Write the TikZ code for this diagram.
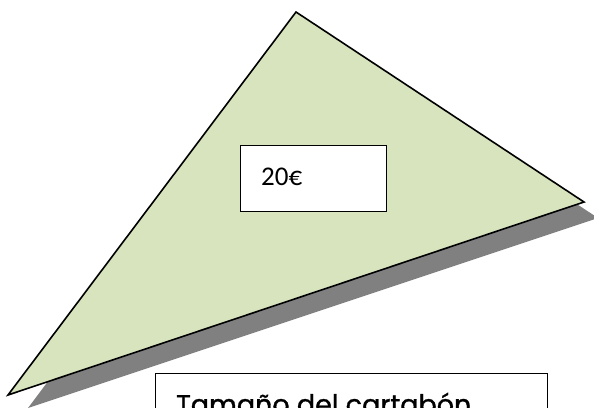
\documentclass[tikz,border=0pt]{standalone}
\usepackage{fontspec}
\setmainfont{Carlito}
\newfontfamily\geofont[FakeBold=1.2]{Poppins}
\definecolor{trigreen}{RGB}{215,228,189}
\definecolor{shadowgray}{RGB}{128,128,128}
\begin{document}
\begin{tikzpicture}[x=1pt,y=-1pt,
  tri/.style={draw=black,line width=1.6pt,fill=trigreen,line join=miter},
  shade/.style={fill=shadowgray},
  label box/.style={draw=black,line width=1.2pt,fill=white}]
\useasboundingbox (0,0) rectangle (594,407);
\clip (0,0) rectangle (594,407);
% shadow
\coordinate (sA) at (312,30);
\coordinate (sB) at (598,218);
\coordinate (sC) at (28,408);
\fill[shade] (sA) -- (sB) -- (sC) -- cycle;
% triangle
\coordinate (A) at (296,12);
\coordinate (B) at (584,202);
\coordinate (C) at (8,395);
\draw[tri] (A) -- (B) -- (C) -- cycle;
% price box
\node[label box,minimum width=146pt,minimum height=66pt,anchor=north west,inner sep=0pt] (price) at (240,145) {};
\node[anchor=base west,inner sep=0pt,font=\fontsize{27}{30}\selectfont] (pricetext) at (261,185) {20€};
% bottom box
\node[label box,minimum width=392pt,minimum height=60pt,anchor=north west,inner sep=0pt] (size) at (155,373) {};
\node[anchor=base west,inner sep=0pt,font=\geofont\fontsize{27}{30}\selectfont] (sizetext) at (176,414) {Tamaño del cartabón};
\end{tikzpicture}
\end{document}
